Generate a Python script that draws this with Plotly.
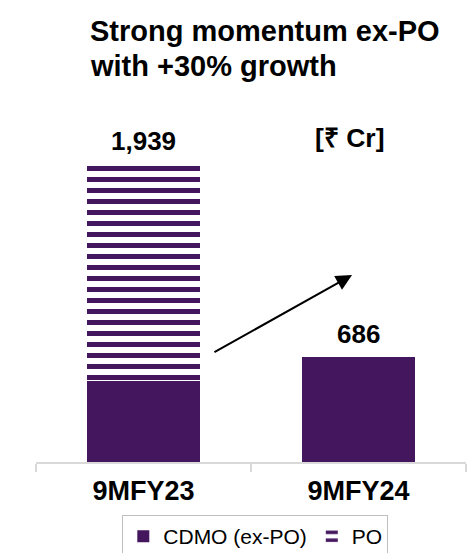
import plotly.graph_objects as go

categories = ["9MFY23", "9MFY24"]
cdmo_ex_po = [528, 686]
po = [1411, 0]
totals = [1939, 686]
total_labels = ["1,939", "686"]

PURPLE = "#43165E"
FONT = "Liberation Sans, Arial, sans-serif"

fig = go.Figure()
fig.add_trace(go.Bar(
    x=categories, y=cdmo_ex_po, name="CDMO (ex-PO)",
    marker=dict(color=PURPLE, line=dict(width=0)),
    width=0.526,
))
fig.add_trace(go.Bar(
    x=categories, y=po, name="PO",
    marker=dict(color="white", line=dict(width=0),
                pattern=dict(shape="-", fgcolor=PURPLE, bgcolor="white",
                             size=11, solidity=0.45, fillmode="replace")),
    width=0.526,
))

for c, t, lab in zip(categories, totals, total_labels):
    fig.add_annotation(x=c, y=t, text="<b>%s</b>" % lab, showarrow=False,
                       yanchor="bottom", yshift=6,
                       font=dict(size=26, color="black", family=FONT))

fig.add_annotation(x=1, y=1939, text="<b>[₹ Cr]</b>", showarrow=False,
                   xshift=-9, yanchor="bottom", yshift=9,
                   font=dict(size=26.5, color="black", family=FONT))

fig.add_annotation(x=0.970, y=1218, ax=0.323, ay=710, xref="x", yref="y",
                   axref="x", ayref="y", text="", showarrow=True,
                   arrowhead=2, arrowsize=1.6, arrowwidth=2, arrowcolor="black")

fig.add_annotation(xref="paper", yref="paper", x=0.121, y=1.297,
                   xanchor="left", yanchor="middle", showarrow=False,
                   text="<b>Strong momentum ex-PO</b>",
                   font=dict(size=29, color="black", family=FONT))
fig.add_annotation(xref="paper", yref="paper", x=0.121, y=1.192,
                   xanchor="left", yanchor="middle", showarrow=False,
                   text="<b>with +30% growth</b>",
                   font=dict(size=29, color="black", family=FONT))

fig.update_layout(
    barmode="stack",
    width=467, height=575,
    margin=dict(l=28, r=9, t=122, b=121),
    paper_bgcolor="white", plot_bgcolor="white",
    showlegend=True,
    legend=dict(orientation="h", x=0.51, xanchor="center", y=-0.16, yanchor="top",
                bordercolor="#BFBFBF", borderwidth=1,
                font=dict(size=21, color="black", family=FONT),
                traceorder="normal", itemwidth=30),
    font=dict(family=FONT),
)
fig.update_xaxes(showline=True, linecolor="#D9D9D9", linewidth=2,
                 ticks="outside", tickson="boundaries", ticklen=8, tickcolor="#D9D9D9",
                 tickwidth=2, ticklabelstandoff=4,
                 tickfont=dict(size=27, color="black", family=FONT),
                 tickprefix="<b>", ticksuffix="</b>")
fig.update_yaxes(visible=False, range=[0, 2163])

fig.write_html("out.html")
